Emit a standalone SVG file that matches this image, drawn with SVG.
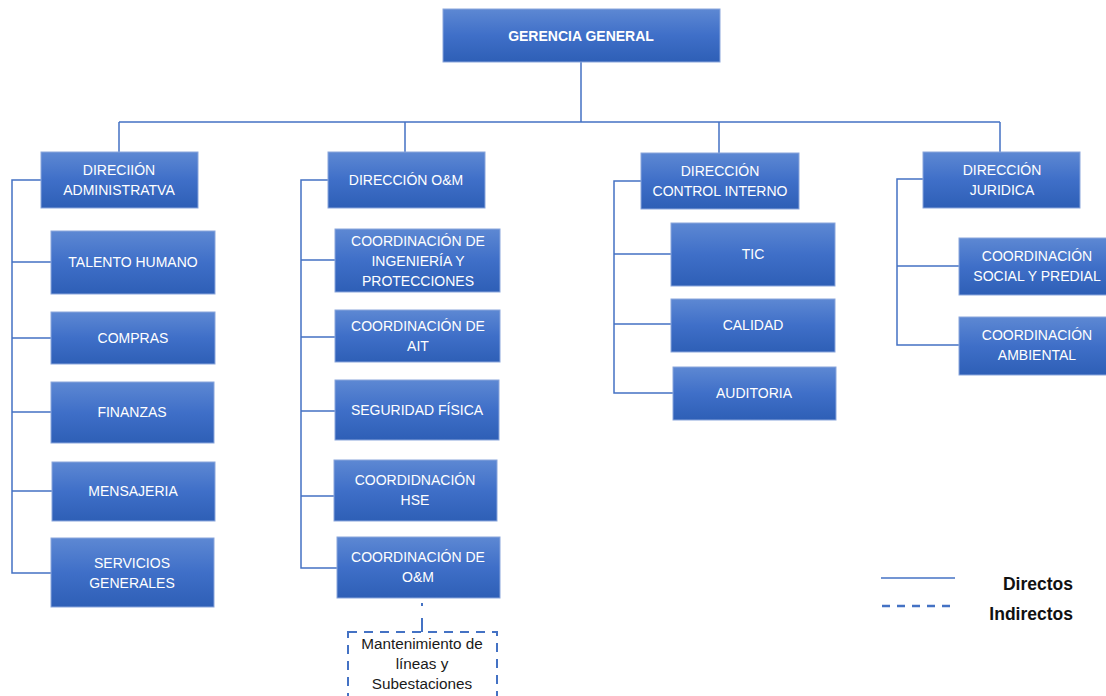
<svg xmlns="http://www.w3.org/2000/svg" width="1106" height="696" viewBox="0 0 1106 696">
  <defs>
    <linearGradient id="boxFill" x1="0" y1="0" x2="0" y2="1">
      <stop offset="0" stop-color="#5d88d3"/>
      <stop offset="0.5" stop-color="#3f6fc8"/>
      <stop offset="1" stop-color="#2e5fb6"/>
    </linearGradient>
    <style>
      .box { fill: url(#boxFill); stroke: #8aa6dc; stroke-width: 1; }
      .lbl { font-family: "Liberation Sans", Arial, sans-serif; font-size: 14px; fill: #ffffff; text-anchor: middle; }
      .lbl-b { font-weight: bold; }
      .wire { fill: none; stroke: #4472c4; stroke-width: 1.5; }
      .wire-d { fill: none; stroke: #4472c4; stroke-width: 2; stroke-dasharray: 3 12 14; }
      .note { font-family: "Liberation Sans", Arial, sans-serif; font-size: 15.3px; fill: #1a1a1a; text-anchor: middle; }
      .legend { font-family: "Liberation Sans", Arial, sans-serif; font-size: 17.5px; font-weight: bold; fill: #111111; text-anchor: end; }
    </style>
  </defs>

  <rect width="1106" height="696" fill="#ffffff"/>

  <!-- connectors -->
  <g id="connectors">
    <!-- top level -->
    <path class="wire" d="M581 62 V122 M119 122 H1000 M119 122 V152 M405 122 V152 M719 122 V153 M1000 122 V152"/>
    <!-- administrative -->
    <path class="wire" d="M41 180 H12 V573 H51 M12 262 H51 M12 338 H51 M12 412 H51 M12 491 H52"/>
    <!-- O&M -->
    <path class="wire" d="M328 180 H301 V568 H337 M301 260 H335 M301 337 H335 M301 411 H335 M301 496 H334"/>
    <!-- control interno -->
    <path class="wire" d="M641 181 H614 V393 H673 M614 254 H671 M614 324 H671"/>
    <!-- juridica -->
    <path class="wire" d="M923 179 H897 V345 H959 M897 266 H959"/>
    <!-- indirect link -->
    <path class="wire-d" d="M422 603 V632"/>
  </g>

  <g id="gerencia">
    <rect class="box" x="443" y="9" width="277" height="53"/>
    <text class="lbl lbl-b" x="581" y="41">GERENCIA GENERAL</text>
  </g>

  <g id="dir-administrativa">
    <rect class="box" x="41" y="152" width="157" height="56"/>
    <text class="lbl" x="119" y="175">DIRECIIÓN</text>
    <text class="lbl" x="119" y="195">ADMINISTRATVA</text>
  </g>
  <g id="talento-humano">
    <rect class="box" x="51" y="231" width="164" height="63"/>
    <text class="lbl" x="133" y="267">TALENTO HUMANO</text>
  </g>
  <g id="compras">
    <rect class="box" x="51" y="312" width="164" height="52"/>
    <text class="lbl" x="133" y="343">COMPRAS</text>
  </g>
  <g id="finanzas">
    <rect class="box" x="51" y="382" width="163" height="61"/>
    <text class="lbl" x="132" y="417">FINANZAS</text>
  </g>
  <g id="mensajeria">
    <rect class="box" x="52" y="462" width="163" height="59"/>
    <text class="lbl" x="133" y="496">MENSAJERIA</text>
  </g>
  <g id="servicios-generales">
    <rect class="box" x="51" y="538" width="163" height="69"/>
    <text class="lbl" x="132" y="568">SERVICIOS</text>
    <text class="lbl" x="132" y="588">GENERALES</text>
  </g>

  <g id="dir-om">
    <rect class="box" x="328" y="152" width="157" height="56"/>
    <text class="lbl" x="406" y="185">DIRECCIÓN O&amp;M</text>
  </g>
  <g id="coord-ingenieria">
    <rect class="box" x="335" y="229" width="165" height="63"/>
    <text class="lbl" x="418" y="246">COORDINACIÓN DE</text>
    <text class="lbl" x="418" y="266">INGENIERÍA Y</text>
    <text class="lbl" x="418" y="286">PROTECCIONES</text>
  </g>
  <g id="coord-ait">
    <rect class="box" x="335" y="310" width="165" height="52"/>
    <text class="lbl" x="418" y="331">COORDINACIÓN DE</text>
    <text class="lbl" x="418" y="351">AIT</text>
  </g>
  <g id="seguridad-fisica">
    <rect class="box" x="335" y="380" width="164" height="60"/>
    <text class="lbl" x="417" y="415">SEGURIDAD FÍSICA</text>
  </g>
  <g id="coord-hse">
    <rect class="box" x="334" y="460" width="163" height="61"/>
    <text class="lbl" x="415" y="485">COORDIDNACIÓN</text>
    <text class="lbl" x="415" y="505">HSE</text>
  </g>
  <g id="coord-om">
    <rect class="box" x="337" y="537" width="163" height="61"/>
    <text class="lbl" x="418" y="562">COORDINACIÓN DE</text>
    <text class="lbl" x="418" y="582">O&amp;M</text>
  </g>
  <g id="mantenimiento">
    <rect x="348" y="632" width="149" height="70" fill="#ffffff" stroke="#4472c4" stroke-width="2" stroke-dasharray="9 7"/>
    <text class="note" x="422" y="649">Mantenimiento de</text>
    <text class="note" x="422" y="669">líneas y</text>
    <text class="note" x="422" y="689">Subestaciones</text>
  </g>

  <g id="dir-control-interno">
    <rect class="box" x="641" y="153" width="158" height="56"/>
    <text class="lbl" x="720" y="176">DIRECCIÓN</text>
    <text class="lbl" x="720" y="196">CONTROL INTERNO</text>
  </g>
  <g id="tic">
    <rect class="box" x="671" y="223" width="164" height="63"/>
    <text class="lbl" x="753" y="259">TIC</text>
  </g>
  <g id="calidad">
    <rect class="box" x="671" y="299" width="164" height="53"/>
    <text class="lbl" x="753" y="330">CALIDAD</text>
  </g>
  <g id="auditoria">
    <rect class="box" x="673" y="367" width="163" height="53"/>
    <text class="lbl" x="754" y="398">AUDITORIA</text>
  </g>

  <g id="dir-juridica">
    <rect class="box" x="923" y="152" width="157" height="56"/>
    <text class="lbl" x="1002" y="175">DIRECCIÓN</text>
    <text class="lbl" x="1002" y="195">JURIDICA</text>
  </g>
  <g id="coord-social-predial">
    <rect class="box" x="959" y="238" width="150" height="57"/>
    <text class="lbl" x="1037" y="261">COORDINACIÓN</text>
    <text class="lbl" x="1037" y="281">SOCIAL Y PREDIAL</text>
  </g>
  <g id="coord-ambiental">
    <rect class="box" x="959" y="317" width="150" height="58"/>
    <text class="lbl" x="1037" y="340">COORDINACIÓN</text>
    <text class="lbl" x="1037" y="360">AMBIENTAL</text>
  </g>

  <g id="legend">
    <line class="wire" x1="881" y1="578" x2="955" y2="578"/>
    <line x1="882" y1="606" x2="955" y2="606" stroke="#4472c4" stroke-width="2.5" stroke-dasharray="8 7"/>
    <text class="legend" x="1073" y="590">Directos</text>
    <text class="legend" x="1073" y="620">Indirectos</text>
  </g>
</svg>
